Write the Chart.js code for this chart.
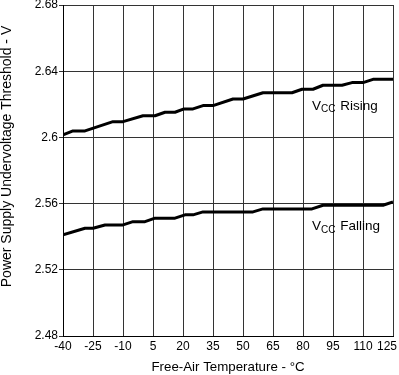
<!DOCTYPE html>
<html>
<head>
<meta charset="utf-8">
<script src="https://cdn.jsdelivr.net/npm/chart.js@4/dist/chart.umd.min.js"></script>
<style>
html,body{margin:0;padding:0;background:#fff;}
#wrap{width:399px;height:375px;position:relative;}
</style>
</head>
<body>
<div id="wrap"><canvas id="c" width="399" height="375"></canvas></div>
<script>
// ---- data ----
const risingTemps  = [-40, -35, -29, -15, -10, 0, 6, 11, 16, 20.5, 25, 30, 35, 45, 50, 60, 74.5, 79.5, 85, 90, 99.5, 104.5, 110, 115, 125];
const risingValues = [2.6015, 2.6039, 2.6039, 2.6095, 2.6095, 2.6131, 2.6131, 2.6152, 2.6152, 2.6172, 2.6172, 2.6192, 2.6192, 2.6232, 2.6232, 2.6270, 2.6270, 2.6291, 2.6291, 2.6315, 2.6315, 2.6331, 2.6331, 2.6351, 2.6351];
const fallingTemps  = [-40, -29, -25, -19, -10, -5, 1, 6, 16, 21, 25, 30, 55, 60, 84.5, 90, 120, 125];
const fallingValues = [2.5411, 2.5451, 2.5451, 2.5471, 2.5471, 2.5491, 2.5491, 2.5512, 2.5512, 2.5532, 2.5532, 2.5550, 2.5550, 2.5568, 2.5568, 2.5590, 2.5590, 2.5610];
const xTickValues = [-40, -25, -10, 5, 20, 35, 50, 65, 80, 95, 110, 125];
const yTickValues = [2.48, 2.52, 2.56, 2.6, 2.64, 2.68];
const seriesNames = ['Rising', 'Falling'];
const xTitle = 'Free-Air Temperature - °C';
const yTitle = 'Power Supply Undervoltage Threshold - V';
// annotation anchors in data coordinates
const labelAnchorsT = [84.5, 84.5];
const labelAnchorsV = [2.6186, 2.546];

const FONT = "'Liberation Sans', Arial, sans-serif";

function toPoints(xs, ys){ return xs.map((x,i)=>({x:x, y:ys[i]})); }

const labelPlugin = {
  id: 'labels',
  afterDraw(chart){
    const ctx = chart.ctx;
    const xs = chart.scales.x, ys = chart.scales.y;
    ctx.save();
    ctx.fillStyle = '#000';
    ctx.textBaseline = 'middle';
    ctx.textAlign = 'left';
    seriesNames.forEach((name, i) => {
      let px = xs.getPixelForValue(labelAnchorsT[i]);
      const py = ys.getPixelForValue(labelAnchorsV[i]);
      ctx.font = '13.5px ' + FONT;
      ctx.fillText('V', px, py);
      px += ctx.measureText('V').width;
      ctx.font = '10px ' + FONT;
      ctx.fillText('CC', px, py + 3);
      px += ctx.measureText('CC').width + 1;
      ctx.font = '13.5px ' + FONT;
      ctx.fillText(' ' + name, px, py);
    });
    // y axis title
    const area = chart.chartArea;
    ctx.save();
    ctx.translate(7, (area.top + area.bottom) / 2 - 14);
    ctx.rotate(-Math.PI / 2);
    ctx.textAlign = 'center';
    ctx.font = '14px ' + FONT;
    ctx.fillStyle = '#000';
    ctx.fillText(yTitle, 0, 0);
    ctx.restore();
    ctx.restore();
  }
};

new Chart(document.getElementById('c'), {
  type: 'line',
  data: {
    datasets: [
      { label: 'VCC Rising', data: toPoints(risingTemps, risingValues) },
      { label: 'VCC Falling', data: toPoints(fallingTemps, fallingValues) }
    ]
  },
  options: {
    responsive: false,
    animation: false,
    devicePixelRatio: 1,
    layout: { padding: { left: 0, right: 6, top: 5, bottom: 0 } },
    elements: {
      line: { borderColor: '#000', borderWidth: 3, tension: 0, fill: false, borderJoinStyle: 'round' },
      point: { radius: 0, hoverRadius: 0 }
    },
    plugins: { legend: { display: false }, tooltip: { enabled: false } },
    scales: {
      x: {
        type: 'linear',
        min: -40, max: 125,
        afterBuildTicks(s){ s.ticks = xTickValues.map(v => ({value: v})); },
        afterFit(s){ s.height = 39; s.paddingLeft = 0; s.paddingRight = 0; },
        grid: { color: '#333', lineWidth: 1, drawTicks: false },
        border: { color: '#000', width: 1 },
        ticks: {
          color: '#000', padding: 3, maxRotation: 0, autoSkip: false,
          font: { family: FONT, size: 12 },
          callback: (v) => v === 125 ? String(v) + '\u2003' : String(v)
        },
        title: { display: true, text: xTitle, color: '#000', padding: { top: 0, bottom: 0 }, font: { family: FONT, size: 13.3 } }
      },
      y: {
        type: 'linear',
        min: 2.48, max: 2.68,
        afterBuildTicks(s){ s.ticks = yTickValues.map(v => ({value: v})); },
        afterFit(s){ s.width = 63; s.paddingTop = 0; s.paddingBottom = 0; },
        grid: { color: '#333', lineWidth: 1, tickLength: 4 },
        border: { color: '#000', width: 1 },
        ticks: {
          color: '#000', padding: 1,
          font: { family: FONT, size: 12 },
          callback: (v) => String(parseFloat(Number(v).toFixed(2)))
        },
        title: { display: false }
      }
    }
  },
  plugins: [labelPlugin]
});
</script>
</body>
</html>
